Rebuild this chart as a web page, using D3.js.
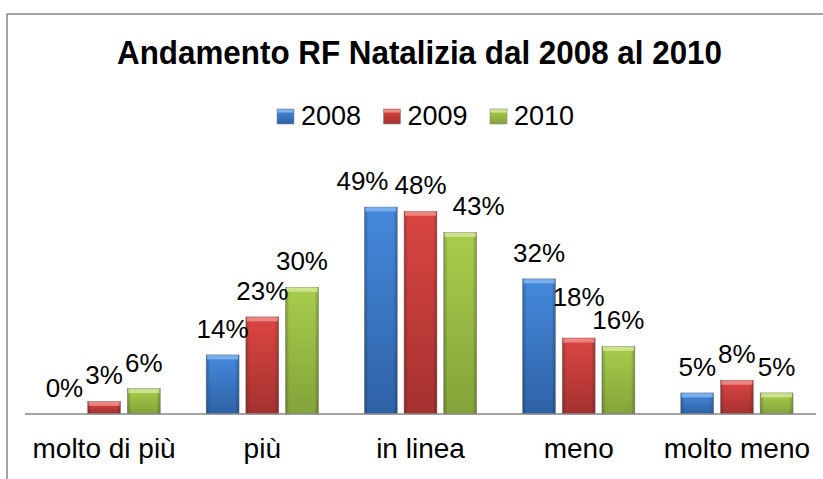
<!DOCTYPE html>
<html>
<head>
<meta charset="utf-8">
<script src="https://cdn.jsdelivr.net/npm/d3@7"></script>
<style>
  body { margin: 0; background: #fff; }
  text { font-family: "Liberation Sans", Arial, sans-serif; fill: #000; }
</style>
</head>
<body>
<div id="container"></div>
<script>
/* CONSTANTS AND GLOBALS */
const width = 823,
  height = 479,
  margin = { top: 203, bottom: 65, left: 25, right: 6 };

/* DATA */
const title = "Andamento RF Natalizia dal 2008 al 2010";
const categories = ["molto di più", "più", "in linea", "meno", "molto meno"];
const years = ["2008", "2009", "2010"];
const values2008 = [0, 14, 49, 32, 5];
const values2009 = [3, 23, 48, 18, 8];
const values2010 = [6, 30, 43, 16, 5];
const seriesValues = [values2008, values2009, values2010];

// colours: [top, bottom, highlight]
const colors = {
  "2008": ["#4589dc", "#2e62a6", "#80b2ef"],
  "2009": ["#da4642", "#a53130", "#ee8c88"],
  "2010": ["#a8cd4c", "#84a33a", "#d0e690"]
};

const data = categories.map((c, i) => ({
  category: c,
  values: years.map((y, j) => ({ year: y, value: seriesValues[j][i] }))
}));

/* SVG */
const svg = d3.select("#container")
  .append("svg")
  .attr("width", width)
  .attr("height", height);

const defs = svg.append("defs");
years.forEach(y => {
  const g = defs.append("linearGradient")
    .attr("id", "grad" + y)
    .attr("x1", 0).attr("y1", 0).attr("x2", 0).attr("y2", 1);
  g.append("stop").attr("offset", "0%").attr("stop-color", colors[y][0]);
  g.append("stop").attr("offset", "100%").attr("stop-color", colors[y][1]);
});
const edge = defs.append("linearGradient")
  .attr("id", "edge")
  .attr("x1", 0).attr("y1", 0).attr("x2", 1).attr("y2", 0);
edge.append("stop").attr("offset", "0%").attr("stop-color", "#000").attr("stop-opacity", 0.25);
edge.append("stop").attr("offset", "12%").attr("stop-color", "#000").attr("stop-opacity", 0);
edge.append("stop").attr("offset", "88%").attr("stop-color", "#000").attr("stop-opacity", 0);
edge.append("stop").attr("offset", "100%").attr("stop-color", "#000").attr("stop-opacity", 0.25);

// chart border (left and top)
svg.append("path")
  .attr("d", d3.line()([[7, height], [7, 14], [width, 14]]))
  .attr("fill", "none")
  .attr("stroke", "#868686")
  .attr("stroke-width", 1.5);

// TITLE
svg.append("text")
  .attr("x", 117)
  .attr("y", 64)
  .attr("font-size", 33)
  .attr("font-weight", "bold")
  .attr("textLength", 605)
  .attr("lengthAdjust", "spacingAndGlyphs")
  .text(title);

// LEGEND
const legend = svg.append("g")
  .attr("transform", "translate(277, 0)");
const legendItem = legend.selectAll("g")
  .data(years)
  .join("g")
  .attr("transform", (d, i) => `translate(${i * 106.5}, 0)`);
legendItem.append("rect")
  .attr("x", 0).attr("y", 109)
  .attr("width", 17).attr("height", 15)
  .attr("fill", d => `url(#grad${d})`)
  .attr("stroke", "#8a8a8a")
  .attr("stroke-width", 0.6);
legendItem.append("rect")
  .attr("x", 0.5).attr("y", 109.5)
  .attr("width", 16).attr("height", 3)
  .attr("fill", d => colors[d][2]);
legendItem.append("text")
  .attr("x", 24)
  .attr("y", 125)
  .attr("font-size", 27)
  .text(d => d);

// SCALES
const xScale = d3.scaleBand()
  .domain(categories)
  .range([margin.left, width - margin.right - 1])
  .paddingInner(0.29)
  .paddingOuter(0.145);

const xSub = d3.scaleBand()
  .domain(years)
  .range([0, xScale.bandwidth()])
  .paddingInner(0.17);

const yScale = d3.scaleLinear()
  .domain([0, 50])
  .range([height - margin.bottom, height - margin.bottom - 50 * 4.224]);

// BARS
const groups = svg.selectAll(".group")
  .data(data)
  .join("g")
  .attr("class", "group")
  .attr("transform", d => `translate(${xScale(d.category)}, 0)`);

const bars = groups.selectAll(".bar")
  .data(d => d.values.filter(v => v.value > 0))
  .join("g")
  .attr("class", "bar");

bars.append("rect")
  .attr("x", d => xSub(d.year))
  .attr("y", d => yScale(d.value))
  .attr("width", xSub.bandwidth())
  .attr("height", d => yScale(0) - yScale(d.value))
  .attr("fill", d => `url(#grad${d.year})`)
  .attr("stroke", "#9a9a9a")
  .attr("stroke-width", 0.6);
bars.append("rect")
  .attr("x", d => xSub(d.year))
  .attr("y", d => yScale(d.value))
  .attr("width", xSub.bandwidth())
  .attr("height", d => yScale(0) - yScale(d.value))
  .attr("fill", "url(#edge)");
bars.append("rect")
  .attr("x", d => xSub(d.year) + 1)
  .attr("y", d => yScale(d.value) + 0.5)
  .attr("width", xSub.bandwidth() - 2)
  .attr("height", 4)
  .attr("fill", d => colors[d.year][2])
  .attr("opacity", 0.9);

// AXIS LINE
svg.append("line")
  .attr("x1", margin.left).attr("x2", width - margin.right - 1)
  .attr("y1", yScale(0)).attr("y2", yScale(0))
  .attr("stroke", "#868686")
  .attr("stroke-width", 1.3);

// VALUE LABELS
const capHeight = 19;
groups.each(function (d) {
  const g = d3.select(this);
  const labels = g.selectAll(".label")
    .data(d.values)
    .join("text")
    .attr("class", "label")
    .attr("text-anchor", "middle")
    .attr("font-size", 26)
    .text(v => v.value + "%");

  const pos = [];
  labels.each(function (v) {
    pos.push({
      cx: xSub(v.year) + xSub.bandwidth() / 2,
      base: yScale(v.value) - 17,
      w: this.getComputedTextLength()
    });
  });

  const collide = (a, b) =>
    Math.abs(a.cx - b.cx) < (a.w + b.w) / 2 && Math.abs(a.base - b.base) < capHeight;

  // labels at nearly the same height: spread them sideways round the group centre
  let spread = false;
  for (let i = 0; i < pos.length - 1; i++) {
    if (collide(pos[i], pos[i + 1]) && Math.abs(pos[i].base - pos[i + 1].base) < 6) spread = true;
  }
  if (spread) {
    const pitch = d3.max(pos, p => p.w) + 6;
    const mid = xScale.bandwidth() / 2;
    pos.forEach((p, i) => { p.cx = mid + (i - (pos.length - 1) / 2) * pitch; });
  } else {
    // otherwise lift the higher label above its neighbour
    for (let i = 0; i < pos.length - 1; i++) {
      const a = pos[i], b = pos[i + 1];
      if (collide(a, b)) {
        if (a.base <= b.base) a.base = b.base - capHeight - 4;
        else b.base = a.base - capHeight - 4;
      }
    }
  }

  labels
    .attr("x", (v, i) => pos[i].cx)
    .attr("y", (v, i) => pos[i].base);
});

// CATEGORY LABELS
svg.selectAll(".cat")
  .data(categories)
  .join("text")
  .attr("class", "cat")
  .attr("x", d => xScale(d) + xScale.bandwidth() / 2)
  .attr("y", 458)
  .attr("text-anchor", "middle")
  .attr("font-size", 28)
  .text(d => d);
</script>
</body>
</html>
